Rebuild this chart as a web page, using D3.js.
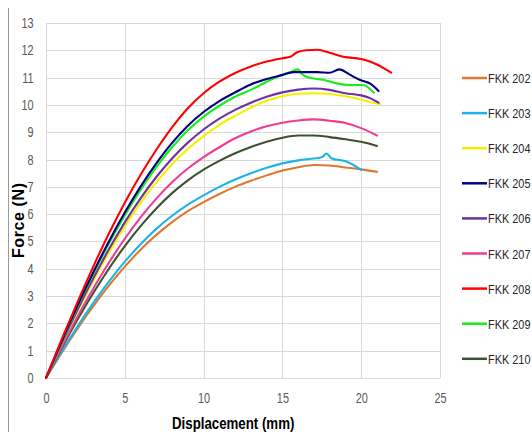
<!DOCTYPE html>
<html><head><meta charset="utf-8">
<script src="https://cdn.jsdelivr.net/npm/d3@7"></script>
<style>
html,body{margin:0;padding:0;background:#fff;}
svg{display:block;}
text{font-family:"Liberation Sans",Arial,sans-serif;}
</style></head>
<body>
<svg id="chart" width="532" height="432"></svg>
<script>
// ---- data ----
const xTicks = [0, 5, 10, 15, 20, 25];
const yTicks = [0,1,2,3,4,5,6,7,8,9,10,11,12,13];
const seriesNames = ["FKK 202","FKK 203","FKK 204","FKK 205","FKK 206","FKK 207","FKK 208","FKK 209","FKK 210"];
const seriesColors = ["#E0772F","#1CB3EA","#F2F200","#000083","#7030A0","#F03C92","#FF0000","#16EE16","#3E5230"];

const fkk202 = [[0,0],[1,0.93],[2,1.81],[3,2.63],[4,3.39],[5,4.08],[6,4.7],[7,5.24],[8,5.71],[9,6.11],[10,6.44],[11,6.74],[12,7.0],[13,7.22],[14,7.42],[15,7.6],[16,7.72],[17,7.8],[18,7.78],[19,7.71],[20,7.64],[21,7.55]];
const fkk203 = [[0,0],[1,0.97],[2,1.89],[3,2.75],[4,3.54],[5,4.26],[6,4.9],[7,5.46],[8,5.94],[9,6.35],[10,6.69],[11,7.0],[12,7.27],[13,7.5],[14,7.7],[15,7.86],[16,7.97],[17,8.04],[17.5,8.08],[17.8,8.22],[18.1,8.05],[19.1,7.92],[20,7.62]];
const fkk204 = [[0,0],[1,1.25],[2,2.44],[3,3.56],[4,4.6],[5,5.55],[6,6.41],[7,7.17],[8,7.83],[9,8.39],[10,8.86],[11,9.27],[12,9.6],[13,9.9],[14,10.15],[15,10.32],[16,10.41],[17,10.43],[18,10.4],[19,10.32],[20,10.2],[21,10.05],[21.2,10.04]];
const fkk205 = [[0,0],[1,1.35],[2,2.65],[3,3.87],[4,5.01],[5,6.06],[6,7.01],[7,7.86],[8,8.61],[9,9.24],[10,9.74],[11,10.14],[12,10.46],[13,10.75],[14,10.95],[15,11.1],[15.7,11.2],[17.2,11.2],[18.0,11.18],[18.6,11.3],[19.3,11.1],[19.9,10.92],[20.6,10.77],[21.1,10.51]];
const fkk206 = [[0,0],[1,1.28],[2,2.5],[3,3.65],[4,4.72],[5,5.7],[6,6.58],[7,7.36],[8,8.04],[9,8.62],[10,9.1],[11,9.5],[12,9.82],[13,10.08],[14,10.3],[15,10.46],[16,10.56],[17,10.6],[18,10.55],[19,10.43],[20,10.35],[20.6,10.24],[21.1,10.08]];
const fkk207 = [[0,0],[1,1.15],[2,2.25],[3,3.28],[4,4.23],[5,5.1],[6,5.88],[7,6.57],[8,7.17],[9,7.67],[10,8.09],[11,8.45],[12,8.78],[13,9.03],[14,9.22],[15,9.35],[16,9.43],[17,9.47],[18,9.42],[19,9.34],[20,9.15],[21,8.88]];
const fkk208 = [[0,0],[1,1.42],[2,2.78],[3,4.08],[4,5.3],[5,6.42],[6,7.44],[7,8.36],[8,9.18],[9,9.88],[10,10.43],[11,10.85],[12,11.17],[13,11.41],[14,11.59],[15,11.71],[15.5,11.76],[15.9,11.92],[16.5,12.0],[17.2,12.02],[17.8,11.95],[18.5,11.82],[19,11.75],[19.5,11.72],[20,11.68],[20.5,11.6],[21,11.48],[21.5,11.32],[21.9,11.18]];
const fkk209 = [[0,0],[1,1.33],[2,2.61],[3,3.81],[4,4.93],[5,5.96],[6,6.89],[7,7.72],[8,8.45],[9,9.07],[10,9.57],[11,9.97],[12,10.3],[13,10.55],[14,10.85],[15,11.1],[15.5,11.2],[16.0,11.3],[16.2,11.16],[16.65,11.0],[17.6,10.92],[18.45,10.79],[19.3,10.73],[20.1,10.73],[20.8,10.45]];
const fkk210 = [[0,0],[1,1.1],[2,2.14],[3,3.11],[4,4.01],[5,4.83],[6,5.56],[7,6.21],[8,6.77],[9,7.24],[10,7.63],[11,7.95],[12,8.23],[13,8.46],[14,8.65],[15,8.8],[16,8.88],[17,8.88],[18,8.82],[19,8.74],[20,8.65],[21,8.5]];
const seriesData = [fkk202,fkk203,fkk204,fkk205,fkk206,fkk207,fkk208,fkk209,fkk210];

// ---- drawing ----
const svg = d3.select("#chart");
const x = d3.scaleLinear().domain([0,25]).range([46,440]);
const y = d3.scaleLinear().domain([0,13]).range([378,23]);

// chart frame (left edge)
svg.append("line").attr("x1",8.5).attr("x2",8.5).attr("y1",8).attr("y2",432)
  .attr("stroke","#9a9a9a").attr("stroke-width",1);

// gridlines
const grid = svg.append("g");
grid.selectAll("line.h").data(yTicks).join("line").attr("class","h")
  .attr("x1",x(0)).attr("x2",x(25))
  .attr("y1",d=>Math.round(y(d))+0.5).attr("y2",d=>Math.round(y(d))+0.5)
  .attr("stroke","#d9d9d9").attr("stroke-width",1);
grid.selectAll("line.v").data(xTicks).join("line").attr("class","v")
  .attr("y1",y(0)).attr("y2",y(13))
  .attr("x1",d=>Math.round(x(d))+0.5).attr("x2",d=>Math.round(x(d))+0.5)
  .attr("stroke","#d9d9d9").attr("stroke-width",1);

// axes (labels only, via d3 axes)
const xAxis = svg.append("g").attr("transform",`translate(0,${y(0)+12})`)
  .call(d3.axisBottom(x).tickValues(xTicks).tickSize(0).tickFormat(d3.format("d")));
const yAxis = svg.append("g").attr("transform",`translate(${x(0)-10},0)`)
  .call(d3.axisLeft(y).tickValues(yTicks).tickSize(0).tickFormat(d3.format("d")));
[xAxis,yAxis].forEach(g=>{
  g.select(".domain").remove();
  g.selectAll("text").attr("fill","#595959").attr("font-size","14px")
    .attr("font-family","'Liberation Sans',Arial,sans-serif")
    .attr("transform","scale(0.78,1)");
});

// lines
const line = d3.line().x(d=>x(d[0])).y(d=>y(d[1])).curve(d3.curveMonotoneX);
const order = [0,1,8,5,2,4,7,3,6];
svg.append("g").selectAll("path").data(order).join("path")
  .attr("d",i=>line(seriesData[i]))
  .attr("fill","none").attr("stroke",i=>seriesColors[i])
  .attr("stroke-width",2.1).attr("stroke-linejoin","round").attr("stroke-linecap","round");

// legend
const lg = svg.append("g");
seriesNames.forEach((n,i)=>{
  const yy = 78 + i*35.1;
  lg.append("line").attr("x1",462).attr("x2",487).attr("y1",yy).attr("y2",yy)
    .attr("stroke",seriesColors[i]).attr("stroke-width",2.5);
  lg.append("text").attr("transform",`translate(488,${yy+5}) scale(0.84,1)`).text(n)
    .attr("font-size","13px").attr("fill","#262626");
});

// axis titles
svg.append("text").attr("transform","translate(172,429) scale(0.83,1)")
  .attr("font-size","16px").attr("font-weight","bold").attr("fill","#000")
  .text("Displacement (mm)");
svg.append("text").attr("transform","translate(24,258) rotate(-90)")
  .attr("font-size","16px").attr("font-weight","bold").attr("fill","#000")
  .attr("letter-spacing","0.6px")
  .text("Force (N)");
</script>
</body></html>
